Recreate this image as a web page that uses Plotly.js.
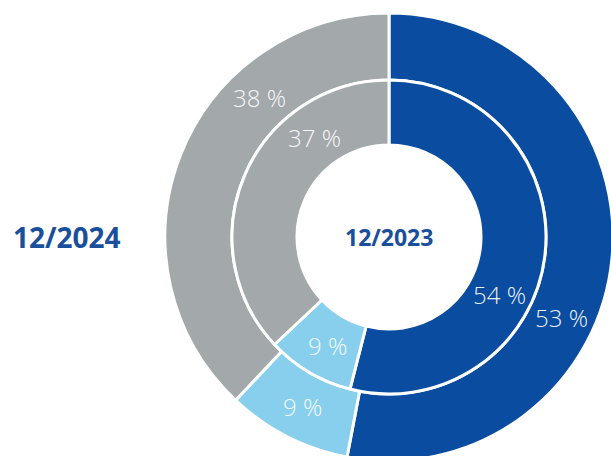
<!DOCTYPE html>
<html>
<head>
<meta charset="utf-8">
<script src="https://cdn.plot.ly/plotly-3.0.1.min.js"></script>
<style>
html,body{margin:0;padding:0;overflow:hidden;background:#fff;}
#chart{width:640px;height:480px;}
</style>
</head>
<body>
<div id="chart"></div>
<script>
// Data
const categories = ["Segment A", "Segment B", "Segment C"];
const values2024 = [53, 9, 38];   // outer ring (12/2024)
const values2023 = [54, 9, 37];   // inner ring (12/2023)
const label2024 = "12/2024";
const label2023 = "12/2023";

// Styles / geometry
const colors = ["#0a4da0", "#88cfee", "#a3a8ab"];
const W = 640, H = 480;
const cx = 389, cy = 237;
const rOuter = 224, rMid = 157, rHole = 92;
const labelShiftOuter = [19.6, 0, 25.6];   // degrees clockwise from slice middle
const labelShiftInner = [20.4, -1, 29.6];
const labelFont = {family: "Open Sans, sans-serif", size: 24, weight: 300, color: "rgba(255,255,255,0.93)"};

function domainFor(r) {
  return {
    x: [(cx - r) / W, (cx + r) / W],
    y: [(H - cy - r) / H, (H - cy + r) / H]
  };
}

const outer = {
  type: "pie",
  values: values2024,
  labels: categories,
  sort: false,
  direction: "clockwise",
  rotation: 0,
  hole: rMid / rOuter,
  domain: domainFor(rOuter),
  marker: {colors: colors, line: {color: "#ffffff", width: 3}},
  textinfo: "none",
  hoverinfo: "label+percent",
  showlegend: false
};
const inner = {
  type: "pie",
  values: values2023,
  labels: categories,
  sort: false,
  direction: "clockwise",
  rotation: 0,
  hole: rHole / rMid,
  domain: domainFor(rMid),
  marker: {colors: colors, line: {color: "#ffffff", width: 3}},
  textinfo: "none",
  hoverinfo: "label+percent",
  showlegend: false
};

function ringLabels(vals, rLabel, shifts) {
  const total = vals.reduce((a, b) => a + b, 0);
  let cum = 0;
  return vals.map((v, i) => {
    const mid = (cum + v / 2) / total * 360 + shifts[i];
    cum += v;
    const t = mid * Math.PI / 180;
    const px = cx + rLabel * Math.sin(t);
    const py = cy - rLabel * Math.cos(t);
    return {
      x: px / W, y: 1 - py / H, xref: "paper", yref: "paper",
      text: Math.round(v / total * 100) + " %",
      showarrow: false, font: labelFont,
      xanchor: "center", yanchor: "middle"
    };
  });
}

const annotations = []
  .concat(ringLabels(values2024, (rOuter + rMid) / 2 - 0.5, labelShiftOuter))
  .concat(ringLabels(values2023, (rMid + rHole) / 2, labelShiftInner))
  .concat([
    {x: cx / W, y: 1 - cy / H, xref: "paper", yref: "paper", text: "<b>" + label2023 + "</b>",
     showarrow: false, font: {family: "Open Sans, sans-serif", size: 23, color: "#1a4f9c"},
     xanchor: "center", yanchor: "middle"},
    {x: 67 / W, y: 1 - 237 / H, xref: "paper", yref: "paper", text: "<b>" + label2024 + "</b>",
     showarrow: false, font: {family: "Open Sans, sans-serif", size: 28, color: "#1a4f9c"},
     xanchor: "center", yanchor: "middle"}
  ]);

const layout = {
  width: W, height: H,
  margin: {l: 0, r: 0, t: 0, b: 0, pad: 0},
  paper_bgcolor: "#ffffff",
  plot_bgcolor: "#ffffff",
  showlegend: false,
  annotations: annotations
};

Plotly.newPlot("chart", [outer, inner], layout, {displayModeBar: false, staticPlot: true});
</script>
</body>
</html>
